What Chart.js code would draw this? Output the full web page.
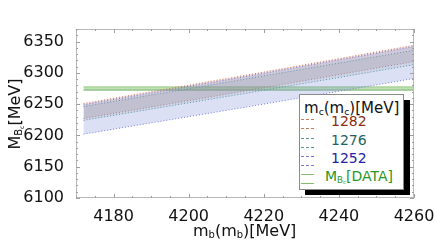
<!DOCTYPE html>
<html>
<head>
<meta charset="utf-8">
<script src="https://cdn.jsdelivr.net/npm/chart.js@4"></script>
<style>
  html, body { margin: 0; padding: 0; background: #fff; }
  #wrap { position: relative; width: 436px; height: 249px; font-family: 'DejaVu Sans', sans-serif; }
  canvas { position: absolute; left: 0; top: 0; }
  .lbl { position: absolute; white-space: nowrap; color: #111; }
  sub { font-size: 62%; vertical-align: -0.25em; line-height: 0; }
  #legend { position: absolute; left: 299px; top: 94px; width: 105px; height: 96px; background: #fff; border: 1px solid #8a8a8a; box-sizing: border-box; }
  #shadow { position: absolute; left: 305px; top: 100px; width: 105px; height: 95px; background: #000; }
  .lline { position: absolute; width: 13px; height: 0; border-top: 1px dashed; }
  #ytitle { position: absolute; left: -25px; top: 103px; width: 80px; height: 22px; line-height: 22px; text-align: center; font-size: 16px; transform: rotate(-90deg); transform-origin: 50% 50%; white-space: nowrap; color: #111; }
</style>
</head>
<body>
<div id="wrap">
  <canvas id="bcChart" width="436" height="249"></canvas>
  <div id="ytitle">M<sub>B<sub>c</sub></sub>[MeV]</div>
  <div class="lbl" style="left:193px;top:221px;font-size:16px;">m<sub>b</sub>(m<sub>b</sub>)[MeV]</div>
  <div id="shadow"></div>
  <div id="legend"></div>
</div>
<script>
// x values (m_b in MeV)
const mbValues = [4172, 4216, 4260];

// band edges for each m_c value
const band1282Upper = [6251, 6297, 6344];
const band1282Lower = [6227, 6272, 6318];
const band1276Upper = [6246, 6291, 6336];
const band1276Lower = [6224, 6268, 6313];
const band1252Upper = [6249, 6295, 6342];
const band1252Lower = [6202, 6246, 6291];

// measured M_Bc
const dataUpper = [6277.5, 6277.5, 6277.5];
const dataLower = [6272.5, 6272.5, 6272.5];

const xTicks = [4180, 4200, 4220, 4240, 4260];
const yTicks = [6100, 6150, 6200, 6250, 6300, 6350];

const legendItems = [
    { label: '1282', color: 'rgb(140,45,20)', line: 'rgb(205,120,100)' },
    { label: '1276', color: 'rgb(30,100,100)', line: 'rgb(90,150,150)' },
    { label: '1252', color: 'rgb(35,35,165)', line: 'rgb(120,120,220)' },
    { label: 'M<sub>B<sub>c</sub></sub>[DATA]', color: 'rgb(40,150,40)', line: 'rgb(130,190,110)', solid: true }
];

function pts(ys) {
    return mbValues.map((x, i) => ({ x: x, y: ys[i] }));
}

function edge(ys, color, fillColor, dash) {
    return {
        data: pts(ys),
        borderColor: color,
        borderWidth: 1,
        borderDash: dash ? [1, 2] : [],
        pointRadius: 0,
        tension: 0,
        fill: fillColor ? '+1' : false,
        backgroundColor: fillColor || 'transparent'
    };
}

const frameTicks = {
    id: 'frameTicks',
    afterDraw(chart) {
        const { ctx, chartArea: a, scales } = chart;
        const xs = scales.x, ys = scales.y;
        ctx.save();
        ctx.strokeStyle = '#b8b8b8';
        ctx.lineWidth = 1;
        ctx.strokeRect(a.left + 0.5, a.top + 0.5, a.right - a.left - 1, a.bottom - a.top - 1);
        ctx.strokeStyle = '#a0a0a0';
        for (let v = 4170; v <= 4260; v += 5) {
            const px = Math.round(xs.getPixelForValue(v)) + 0.5;
            const len = (v % 20 === 0) ? 4 : 2;
            ctx.beginPath();
            ctx.moveTo(px, a.bottom); ctx.lineTo(px, a.bottom - len);
            ctx.moveTo(px, a.top); ctx.lineTo(px, a.top + len);
            ctx.stroke();
        }
        for (let v = 6100; v <= 6370; v += 10) {
            const py = Math.round(ys.getPixelForValue(v)) + 0.5;
            const len = (v % 50 === 0) ? 4 : 2;
            ctx.beginPath();
            ctx.moveTo(a.left, py); ctx.lineTo(a.left + len, py);
            ctx.moveTo(a.right, py); ctx.lineTo(a.right - len, py);
            ctx.stroke();
        }
        ctx.restore();
    }
};

new Chart(document.getElementById('bcChart'), {
    type: 'line',
    data: {
        datasets: [
            edge(band1252Upper, 'rgb(120,120,220)', 'rgba(125,145,215,0.28)', true),
            edge(band1252Lower, 'rgb(120,120,220)', null, true),
            edge(band1276Upper, 'rgb(90,150,150)', 'rgba(110,150,140,0.16)', true),
            edge(band1276Lower, 'rgb(90,150,150)', null, true),
            edge(band1282Upper, 'rgb(205,120,100)', 'rgba(190,120,95,0.24)', true),
            edge(band1282Lower, 'rgb(205,120,100)', null, true),
            edge(dataUpper, 'rgb(150,200,130)', 'rgba(140,200,120,0.55)', false),
            edge(dataLower, 'rgb(100,165,90)', null, false)
        ]
    },
    options: {
        responsive: false,
        animation: false,
        layout: { padding: { top: 29, right: 22, left: 0, bottom: 0 } },
        plugins: { legend: { display: false }, tooltip: { enabled: false } },
        scales: {
            x: {
                type: 'linear',
                min: 4170,
                max: 4260,
                afterBuildTicks: s => { s.ticks = xTicks.map(v => ({ value: v })); },
                ticks: { color: '#111', font: { family: 'DejaVu Sans', size: 16 }, padding: 1, maxRotation: 0, callback: v => String(v) },
                grid: { display: false },
                border: { display: false },
                afterFit: s => { s.height = 51; }
            },
            y: {
                min: 6100,
                max: 6370,
                afterBuildTicks: s => { s.ticks = yTicks.map(v => ({ value: v })); },
                ticks: { color: '#111', font: { family: 'DejaVu Sans', size: 16 }, padding: 4, callback: v => String(v) },
                grid: { display: false },
                border: { display: false },
                afterFit: s => { s.width = 76; }
            }
        }
    },
    plugins: [frameTicks]
});

// legend box
const legend = document.getElementById('legend');
let html = '<div class="lbl" style="left:4px;top:4px;font-size:15px;">m<sub>c</sub>(m<sub>c</sub>)[MeV]</div>';
const rowTops = [24, 43, 61, 79];
legendItems.forEach((it, i) => {
    const t = rowTops[i];
    const style = it.solid ? 'solid' : 'dashed';
    html += '<div class="lline" style="left:1px;top:' + t + 'px;border-top-style:' + style + ';border-color:' + it.line + ';"></div>';
    html += '<div class="lline" style="left:1px;top:' + (t + 9) + 'px;border-top-style:' + style + ';border-color:' + it.line + ';"></div>';
    const left = it.solid ? 25 : 31;
    html += '<div class="lbl" style="left:' + left + 'px;top:' + (t - 6) + 'px;font-size:14px;color:' + it.color + ';">' + it.label + '</div>';
});
legend.innerHTML = html;
</script>
</body>
</html>
